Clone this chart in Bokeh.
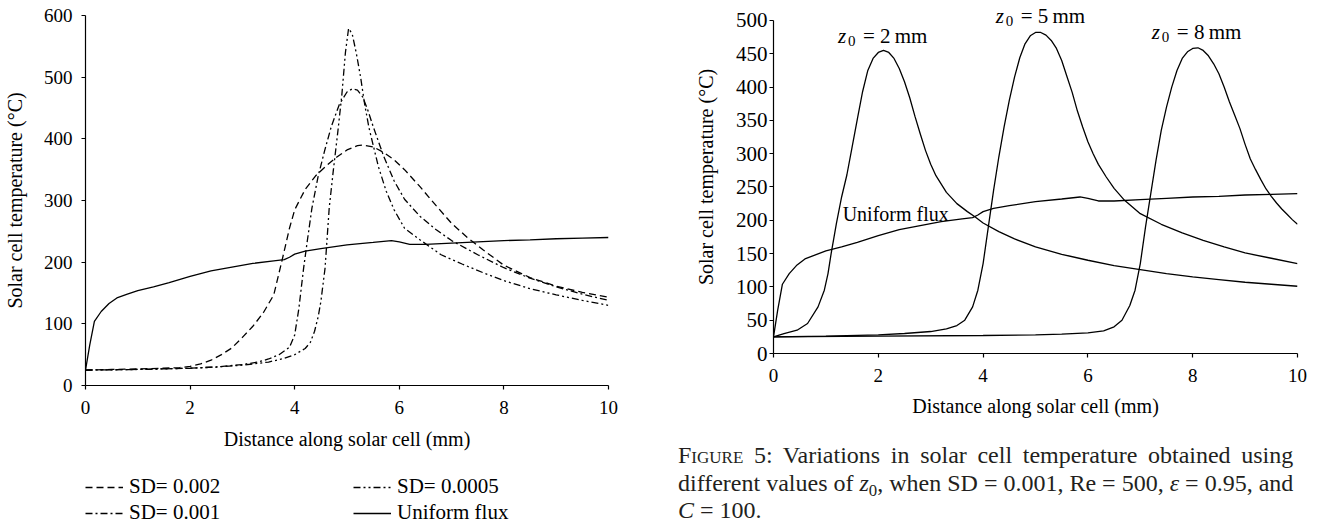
from bokeh.plotting import figure
from bokeh.models import Legend, LegendItem, Label, Div, FixedTicker, Range1d
from bokeh.layouts import row, column
from bokeh.embed import file_html
from bokeh.resources import INLINE

FONT = "Liberation Serif"

# ---------------- data ----------------
# Uniform flux (same in both panels)
uf_x = [0, 0.08, 0.17, 0.3, 0.45, 0.6, 0.8, 1.0, 1.3, 1.6, 2.0, 2.4, 2.8, 3.2, 3.6, 3.8, 3.9, 4.0,
        4.2, 4.5, 5.0, 5.5, 5.85, 6.0, 6.2, 6.5, 7.0, 7.5, 8.0, 8.5, 9.0, 9.5, 10]
uf_y = [25, 65, 104, 120, 133, 142, 148, 154, 160, 167, 177, 186, 192, 198, 202, 204, 208, 213,
        218, 222, 228, 232, 235, 233, 229, 229, 231, 233, 235, 236, 238, 239, 240]

# Left panel: SD = 0.002
sd2_x = [0, 0.5, 1.0, 1.5, 1.8, 2.0, 2.2, 2.4, 2.6, 2.8, 3.0, 3.2, 3.4, 3.6, 3.75, 3.9, 4.0, 4.2,
         4.4, 4.6, 4.8, 5.0, 5.2, 5.3, 5.5, 5.7, 5.9, 6.1, 6.4, 6.7, 7.0, 7.3, 7.6, 8.0, 8.5, 9.0,
         9.5, 10]
sd2_y = [25, 26, 27, 28, 29, 31, 35, 41, 50, 61, 78, 96, 118, 147, 200, 255, 285, 318,
         340, 356, 370, 382, 389, 390, 387, 378, 366, 350, 322, 292, 263, 240, 220, 195, 175, 161,
         151, 143]

# Left panel: SD = 0.001
sd1_x = [0, 1.0, 2.0, 2.5, 3.0, 3.3, 3.5, 3.7, 3.9, 4.0, 4.08, 4.17, 4.25, 4.33, 4.45, 4.57, 4.7,
         4.85, 5.0, 5.1, 5.2, 5.3, 5.4, 5.5, 5.7, 5.9, 6.1, 6.4, 6.7, 7.0, 7.5, 8.0, 8.5, 9.0, 9.5,
         10]
sd1_y = [25, 26, 28, 30, 34, 38, 43, 50, 62, 82, 125, 190, 240, 288, 340, 380, 420,
         455, 476, 481, 479, 468, 446, 420, 372, 332, 302, 274, 253, 235, 212, 191, 174, 160, 148,
         138]

# Left panel: SD = 0.0005
sd05_x = [0, 1.0, 2.0, 2.5, 3.0, 3.5, 3.8, 4.0, 4.2, 4.3, 4.38, 4.45, 4.5, 4.58, 4.66, 4.74, 4.82,
          4.9, 4.97, 5.03, 5.1, 5.18, 5.26, 5.34, 5.42, 5.5, 5.6, 5.75, 5.9, 6.1, 6.4, 6.8, 7.2,
          7.6, 8.0, 8.5, 9.0, 9.5, 10]
sd05_y = [25, 26, 28, 30, 33, 38, 44, 50, 60, 70, 88, 112, 136, 190, 288, 350, 408,
          470, 540, 579, 570, 538, 500, 455, 418, 390, 355, 315, 285, 255, 236, 212, 197,
          183, 170, 157, 147, 138, 130]

# Right panel: z0 = 2 mm
z2_x = [0, 0.2, 0.45, 0.65, 0.85, 0.97, 1.04, 1.1, 1.2, 1.3, 1.4, 1.5, 1.6, 1.7, 1.8, 1.9, 2.0,
        2.1, 2.2, 2.3, 2.4, 2.5, 2.6, 2.7, 2.8, 2.9, 3.0, 3.1, 3.3, 3.5, 3.7, 3.85, 4.0, 4.3, 4.6,
        5.0, 5.5, 6.0, 6.5, 7.0, 7.5, 8.0, 8.5, 9.0, 9.5, 10]
z2_y = [25, 30, 35, 45, 70, 95, 120, 150, 195, 235, 268, 310, 352, 393, 425, 443, 452,
        455, 452, 443, 428, 408, 384, 356, 330, 305, 284, 267, 242, 225, 213, 205, 196, 183, 172,
        160, 149, 140, 132, 126, 120, 115, 111, 107, 104, 101]

# Right panel: z0 = 5 mm
z5_x = [0, 1.0, 2.0, 2.5, 3.0, 3.3, 3.5, 3.65, 3.8, 3.9, 4.0, 4.1, 4.2, 4.3, 4.4, 4.5, 4.6, 4.7,
        4.8, 4.9, 5.0, 5.1, 5.2, 5.3, 5.4, 5.5, 5.6, 5.7, 5.8, 5.9, 6.0, 6.1, 6.2, 6.35, 6.5, 6.7,
        7.0, 7.4, 7.8, 8.2, 8.6, 9.0, 9.5, 10]
z5_y = [25, 26, 28, 30, 33, 37, 42, 50, 70, 95, 135, 190, 245, 295, 340, 380, 415, 444,
        465, 477, 482, 482, 478, 470, 458, 440, 416, 392, 364, 340, 318, 300, 284, 265, 248, 230,
        210, 194, 181, 170, 160, 151, 143, 135]

# Right panel: z0 = 8 mm
z8_x = [0, 2.0, 4.0, 5.0, 5.5, 6.0, 6.3, 6.5, 6.65, 6.8, 6.9, 7.0, 7.1, 7.2, 7.3, 7.4, 7.5, 7.6,
        7.7, 7.8, 7.9, 8.0, 8.1, 8.2, 8.3, 8.4, 8.5, 8.6, 8.7, 8.8, 8.9, 9.0, 9.1, 9.2, 9.3, 9.4,
        9.5, 9.6, 9.7, 9.8, 9.9, 10]
z8_y = [25, 26, 27, 28, 29, 31, 34, 40, 50, 72, 95, 135, 190, 240, 290, 335, 370, 400,
        425, 443, 453, 458, 459, 455, 447, 435, 420, 400, 378, 358, 338, 314, 292, 276, 261, 247,
        236, 226, 217, 209, 201, 194]

# tick values
x_ticks = [0, 2, 4, 6, 8, 10]
left_y_ticks = [0, 100, 200, 300, 400, 500, 600]
right_y_ticks = [0, 50, 100, 150, 200, 250, 300, 350, 400, 450, 500]

# legend labels: first column, second column
legend_col1 = ["SD= 0.002", "SD= 0.001"]
legend_col2 = ["SD= 0.0005", "Uniform flux"]
dash_sd2 = "7 4"
dash_sd1 = "7 3 2 3"
dash_sd05 = "7 3 2 3 2 3"

# right panel annotations
ann_x = [1.23, 4.24, 7.22]
ann_y = [477, 507, 482]
ann_text = ["= 2\u2009mm", "= 5\u2009mm", "= 8\u2009mm"]
uniform_label = "Uniform flux"
uniform_label_x = 1.32
uniform_label_y = 210

x_label = "Distance along solar cell (mm)"
y_label = "Solar cell temperature (\u00b0C)"


def style_axes(p, xticks, yticks, xtick_size, ytick_size, label_size, xstand, ystand,
               xlab_stand, ylab_stand):
    p.xaxis.ticker = FixedTicker(ticks=xticks)
    p.yaxis.ticker = FixedTicker(ticks=yticks)
    for ax in p.axis:
        ax.axis_line_color = "black"
        ax.axis_line_width = 1.2
        ax.major_tick_line_color = "black"
        ax.major_tick_line_width = 1.2
        ax.major_tick_in = 0
        ax.major_tick_out = 4
        ax.minor_tick_line_color = None
        ax.major_label_text_font = FONT
        ax.major_label_text_color = "black"
        ax.axis_label_text_font = FONT
        ax.axis_label_text_font_style = "normal"
        ax.axis_label_text_font_size = label_size
        ax.axis_label_text_color = "black"
    p.xaxis.major_label_text_font_size = xtick_size
    p.yaxis.major_label_text_font_size = ytick_size
    p.xaxis.major_label_standoff = xstand
    p.yaxis.major_label_standoff = ystand
    p.xaxis.axis_label_standoff = xlab_stand
    p.yaxis.axis_label_standoff = ylab_stand
    p.xgrid.visible = False
    p.ygrid.visible = False
    p.outline_line_color = None
    p.background_fill_color = "white"
    p.border_fill_color = "white"


lw = 1.3

# ---------------- left panel ----------------
p1 = figure(width=661, height=466, output_backend="svg", toolbar_location=None,
            x_range=Range1d(0, 10), y_range=Range1d(0, 600),
            min_border_left=85, min_border_right=53, min_border_top=15, min_border_bottom=81,
            x_axis_label=x_label, y_axis_label=y_label)
style_axes(p1, x_ticks, left_y_ticks, "19px", "19px", "20px", 11, 9, 11, 15)

p1.line(sd2_x, sd2_y, line_color="black", line_width=lw, line_dash=dash_sd2)
p1.line(sd1_x, sd1_y, line_color="black", line_width=lw, line_dash=dash_sd1)
p1.line(sd05_x, sd05_y, line_color="black", line_width=lw, line_dash=dash_sd05)
p1.line(uf_x, uf_y, line_color="black", line_width=lw)

# legend strip below the left panel: the same series, drawn with a view range that
# shows none of them, so only their legend entries appear
pl = figure(width=661, height=60, output_backend="svg", toolbar_location=None,
            x_range=Range1d(20, 21), y_range=Range1d(2000, 2001),
            min_border_left=0, min_border_right=0, min_border_top=0, min_border_bottom=0,
            x_axis_type=None, y_axis_type=None)
pl.xgrid.visible = False
pl.ygrid.visible = False
pl.outline_line_color = None
g_sd2 = pl.line(sd2_x, sd2_y, line_color="black", line_width=lw, line_dash=dash_sd2)
g_sd1 = pl.line(sd1_x, sd1_y, line_color="black", line_width=lw, line_dash=dash_sd1)
g_sd05 = pl.line(sd05_x, sd05_y, line_color="black", line_width=lw, line_dash=dash_sd05)
g_uf = pl.line(uf_x, uf_y, line_color="black", line_width=lw)


def make_legend(items, loc):
    return Legend(items=items, location=loc, orientation="vertical",
                  padding=0, margin=0, spacing=1, glyph_width=38, glyph_height=20,
                  label_height=20, label_standoff=6,
                  label_text_font=FONT, label_text_font_size="21px", label_text_color="black",
                  border_line_color=None, background_fill_alpha=0)


pl.add_layout(make_legend([LegendItem(label=legend_col1[0], renderers=[g_sd2]),
                           LegendItem(label=legend_col1[1], renderers=[g_sd1])], (0, 1)))
pl.add_layout(make_legend([LegendItem(label=legend_col2[0], renderers=[g_sd05]),
                           LegendItem(label=legend_col2[1], renderers=[g_uf])], (268, 1)))

# ---------------- right panel ----------------
p2 = figure(width=661, height=430, output_backend="svg", toolbar_location=None,
            x_range=Range1d(0, 10), y_range=Range1d(0, 530),
            min_border_left=112, min_border_right=25, min_border_top=0, min_border_bottom=77,
            x_axis_label=x_label, y_axis_label=y_label)
style_axes(p2, x_ticks, right_y_ticks, "19px", "21px", "20px", 11, 2, 10, 16)
p2.yaxis.bounds = (0, 500)

for xs, ys in [(uf_x, uf_y), (z2_x, z2_y), (z5_x, z5_y), (z8_x, z8_y)]:
    p2.line(xs, ys, line_color="black", line_width=lw)

for ax_, ay_, t in zip(ann_x, ann_y, ann_text):
    p2.add_layout(Label(x=ax_, y=ay_, text="z", text_font=FONT, text_font_style="italic",
                        text_font_size="21px", text_baseline="middle", text_color="black"))
    p2.add_layout(Label(x=ax_, y=ay_, text="0", x_offset=10, y_offset=-5, text_font=FONT,
                        text_font_size="15px", text_baseline="middle", text_color="black"))
    p2.add_layout(Label(x=ax_, y=ay_, text=t, x_offset=25, text_font=FONT,
                        text_font_size="21px", text_baseline="middle", text_color="black"))

p2.add_layout(Label(x=uniform_label_x, y=uniform_label_y, text=uniform_label, text_font=FONT,
                    text_font_size="20px", text_baseline="middle", text_color="black"))

sub0 = '<sub style="font-size:70%;line-height:0;vertical-align:-0.3em">0</sub>'
justify = 'style="text-align:justify;text-align-last:justify"'
caption_html = (
    '<div style="padding-top:12px">'
    f'<div {justify}><span style="font-variant:small-caps">Figure</span> 5: Variations in solar cell temperature obtained using</div>'
    f'<div {justify}>different values of <i>z</i>{sub0}, when SD = 0.001, Re = 500, <i>\u03b5</i> = 0.95, and</div>'
    '<div><i>C</i> = 100.</div>'
    '</div>'
)
caption = Div(text=caption_html, width=640, height=96, margin=(0, 0, 0, 17),
              styles={"font-family": FONT, "font-size": "24px", "line-height": "27.5px",
                      "color": "#231f20"})

layout = row(column(p1, pl), column(p2, caption))

open("out.html", "w").write(file_html(layout, INLINE))
